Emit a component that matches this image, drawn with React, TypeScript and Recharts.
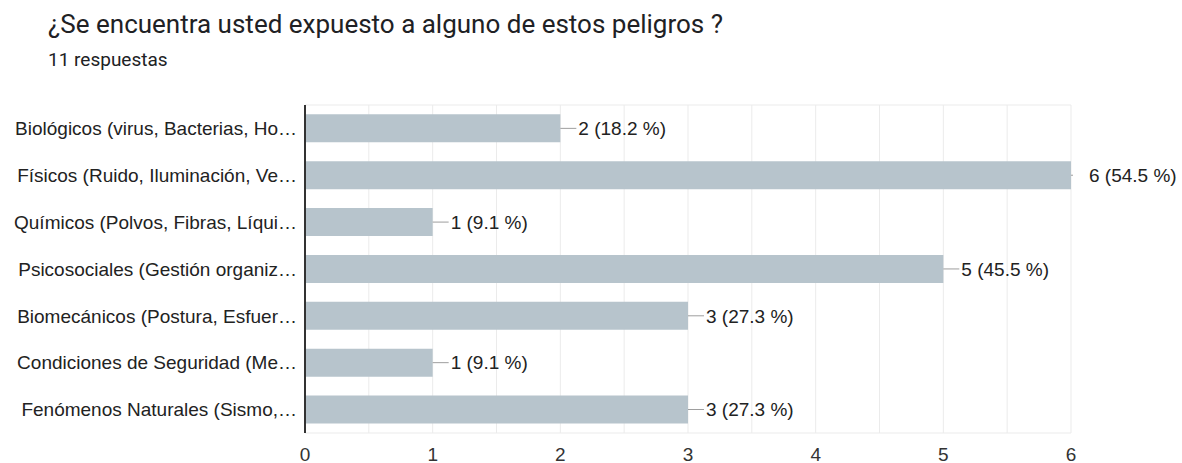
import React from 'react';
import { BarChart, Bar, XAxis, YAxis, CartesianGrid } from 'recharts';

const categories = [
    'Biológicos (virus, Bacterias, Ho…',
    'Físicos (Ruido, Iluminación, Ve…',
    'Químicos (Polvos, Fibras, Líqui…',
    'Psicosociales (Gestión organiz…',
    'Biomecánicos (Postura, Esfuer…',
    'Condiciones de Seguridad (Me…',
    'Fenómenos Naturales (Sismo,…',
];
const counts = [2, 6, 1, 5, 3, 1, 3];
const percents = ['18.2', '54.5', '9.1', '45.5', '27.3', '9.1', '27.3'];
const xTicks = [0, 0.5, 1, 1.5, 2, 2.5, 3, 3.5, 4, 4.5, 5, 5.5, 6];

const data = categories.map((name, i) => ({ name, value: counts[i], pct: percents[i] }));
const maxCount = Math.max(...counts);

const BAR_COLOR = '#b7c4cc';
const GRID_COLOR = '#ebebeb';
const LABEL_FONT = '"Liberation Sans", Arial, sans-serif';

const ValueLabel = (props: any) => {
    const { x, y, width, height, index } = props;
    const end = x + width;
    const cy = y + height / 2;
    const row = data[index];
    // the longest bar hides most of its leader line behind the edge
    const lineLen = row.value === maxCount ? 2 : 16;
    return (
        <g>
            <line x1={end} y1={cy} x2={end + lineLen} y2={cy} stroke="#9e9e9e" strokeWidth={1} />
            <text x={end + 18} y={cy} dy="0.355em" fill="#222" fontSize={19} fontFamily={LABEL_FONT}>
                {`${row.value} (${row.pct} %)`}
            </text>
        </g>
    );
};

export default function App() {
    return (
        <div style={{ position: 'absolute', left: 0, top: 0, width: 1182, height: 463, background: '#fff' }}>
            <div style={{ position: 'absolute', left: 48, top: 9, fontFamily: 'Roboto, sans-serif', fontSize: 26, color: '#202124', whiteSpace: 'nowrap' }}>
                ¿Se encuentra usted expuesto a alguno de estos peligros ?
            </div>
            <div style={{ position: 'absolute', left: 48, top: 48, fontFamily: 'Roboto, sans-serif', fontSize: 19, color: '#202124', whiteSpace: 'nowrap' }}>
                11 respuestas
            </div>
            <div style={{ position: 'absolute', left: 0, top: 0 }}>
                <BarChart
                    width={1182}
                    height={463}
                    data={data}
                    layout="vertical"
                    margin={{ top: 105, right: 111, bottom: 0, left: 0 }}
                    barCategoryGap="20%"
                >
                    <CartesianGrid
                        stroke={GRID_COLOR}
                        vertical={true}
                        horizontalCoordinatesGenerator={({ offset }: any) => [offset.top, offset.top + offset.height]}
                    />
                    <XAxis
                        type="number"
                        domain={[0, 6]}
                        ticks={xTicks}
                        interval={0}
                        height={30}
                        axisLine={false}
                        tickLine={false}
                        tickSize={13}
                        tickFormatter={(v: number) => (Number.isInteger(v) ? String(v) : '')}
                        tick={{ fill: '#333', fontSize: 19, fontFamily: LABEL_FONT }}
                    />
                    <YAxis
                        type="category"
                        dataKey="name"
                        width={305}
                        interval={0}
                        tickLine={false}
                        axisLine={{ stroke: '#333', strokeWidth: 2 }}
                        tick={{ fill: '#222', fontSize: 19, fontFamily: LABEL_FONT }}
                    />
                    <Bar dataKey="value" fill={BAR_COLOR} isAnimationActive={false} label={<ValueLabel />} />
                </BarChart>
            </div>
        </div>
    );
}
